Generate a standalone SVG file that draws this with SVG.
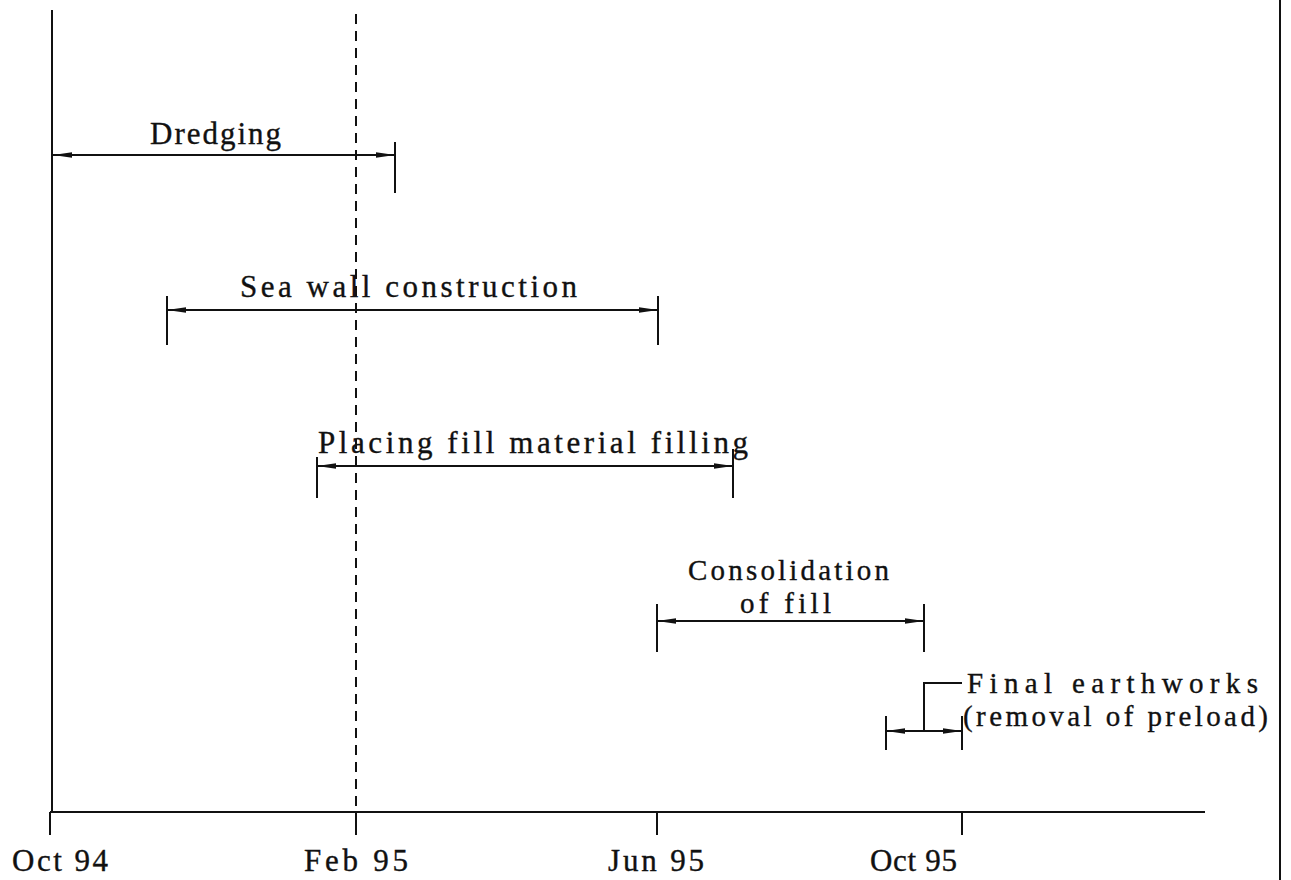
<svg xmlns="http://www.w3.org/2000/svg" width="1291" height="880" viewBox="0 0 1291 880">
  <style>
    .ln { stroke: #111; stroke-width: 2; fill: none; stroke-linecap: butt; }
    .bar { stroke: #111; stroke-width: 2; fill: none; marker-start: url(#arr); marker-end: url(#arr); }
    .dash { stroke: #111; stroke-width: 2; fill: none; stroke-dasharray: 10 7; }
    .lbl { font-family: "Liberation Serif", "DejaVu Serif", serif; font-size: 31px; fill: #111; stroke: #111; stroke-width: 0.35; }
    .lbl2 { font-family: "Liberation Serif", "DejaVu Serif", serif; font-size: 29px; fill: #111; stroke: #111; stroke-width: 0.35; }
  </style>
  <defs>
    <marker id="arr" markerUnits="userSpaceOnUse" markerWidth="22" markerHeight="10" refX="19" refY="5" orient="auto-start-reverse">
      <path d="M0,2.2 L19,5 L0,7.8 Z" fill="#111"/>
    </marker>
  </defs>
  <rect width="1291" height="880" fill="#fff"/>

  <!-- frame: right border -->
  <line class="ln" x1="1280" y1="0" x2="1280" y2="880" stroke-width="2.5"/>

  <!-- time axis -->
  <g id="axis">
    <line class="ln" x1="52" y1="10" x2="52" y2="813"/>
    <line class="ln" x1="50" y1="812" x2="1205" y2="812"/>
    <line class="ln" x1="50" y1="812" x2="50" y2="835"/>
    <line class="ln" x1="356" y1="812" x2="356" y2="835"/>
    <line class="ln" x1="657" y1="812" x2="657" y2="835"/>
    <line class="ln" x1="962" y1="812" x2="962" y2="835"/>
    <text class="lbl" x="12" y="871" textLength="96" lengthAdjust="spacing">Oct 94</text>
    <text class="lbl" x="304" y="871" textLength="104" lengthAdjust="spacing">Feb 95</text>
    <text class="lbl" x="608" y="871" textLength="96" lengthAdjust="spacing">Jun 95</text>
    <text class="lbl" x="870" y="871" textLength="87" lengthAdjust="spacing">Oct 95</text>
  </g>

  <!-- current date marker -->
  <g id="feb95-marker">
    <line class="dash" x1="356" y1="14" x2="356" y2="812"/>
  </g>

  <g id="dredging">
    <line class="ln" x1="395" y1="142" x2="395" y2="193"/>
    <text class="lbl" x="150" y="144" textLength="131" lengthAdjust="spacing">Dredging</text>
  </g>

  <g id="sea-wall">
    <line class="ln" x1="167" y1="296" x2="167" y2="345"/>
    <line class="ln" x1="658" y1="296" x2="658" y2="345"/>
    <text class="lbl" x="240" y="297" textLength="337" lengthAdjust="spacing">Sea wall construction</text>
  </g>

  <g id="placing-fill">
    <line class="ln" x1="317" y1="457" x2="317" y2="498"/>
    <line class="ln" x1="733" y1="449" x2="733" y2="498"/>
    <text class="lbl" x="318" y="453" textLength="430" lengthAdjust="spacing">Placing fill material filling</text>
  </g>

  <g id="consolidation">
    <line class="ln" x1="657" y1="604" x2="657" y2="652"/>
    <line class="ln" x1="924" y1="604" x2="924" y2="652"/>
    <text class="lbl2" x="688" y="580" textLength="201" lengthAdjust="spacing">Consolidation</text>
    <text class="lbl2" x="740" y="613" textLength="91" lengthAdjust="spacing">of fill</text>
  </g>

  <g id="final-earthworks">
    <line class="ln" x1="886" y1="716" x2="886" y2="750"/>
    <line class="ln" x1="962" y1="716" x2="962" y2="750"/>
    <text class="lbl2" x="967" y="693" textLength="291" lengthAdjust="spacing">Final earthworks</text>
    <text class="lbl2" x="963" y="726" textLength="305" lengthAdjust="spacing">(removal of preload)</text>
  </g>

  <!-- duration spans and leader -->
  <g id="connectors">
    <line class="bar" x1="53" y1="155" x2="395" y2="155"/>
    <line class="bar" x1="167" y1="310" x2="658" y2="310"/>
    <line class="bar" x1="317" y1="466" x2="733" y2="466"/>
    <line class="bar" x1="657" y1="621" x2="924" y2="621"/>
    <line class="bar" x1="886" y1="731" x2="962" y2="731"/>
    <polyline class="ln" points="924,731 924,683 962,683"/>
  </g>
</svg>
